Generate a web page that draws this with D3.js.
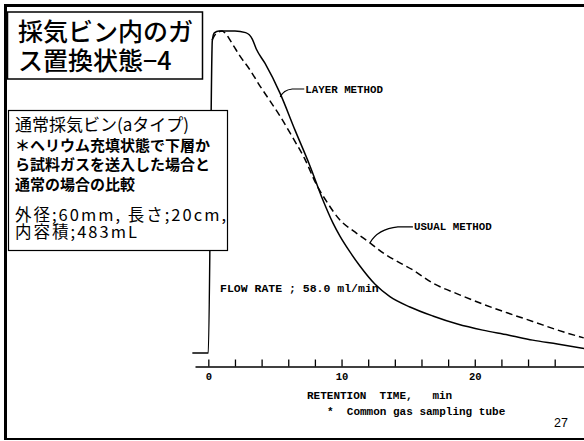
<!DOCTYPE html>
<html>
<head>
<meta charset="utf-8">
<script src="https://cdn.jsdelivr.net/npm/d3@7"></script>
<style>
  body { margin: 0; background: #fff; }
  svg { display: block; }
  .jp { font-family: "Noto Sans CJK JP", sans-serif; }
  .tw { font-family: "Liberation Mono", "DejaVu Sans Mono", monospace; font-weight: bold; }
</style>
</head>
<body>
<svg id="chart" width="584" height="441"></svg>
<script>
// retention time (min) / detector response (% of peak)
const layerTime  = [-1.2, 0, 0.3, 0.45, 0.8, 2.0, 2.8, 3.3, 3.6, 4.25, 5.38, 6.5, 7.63, 8.6, 9.35, 9.88, 10.63, 11.38, 12.5, 13.63, 15.13, 16.85, 18.7, 20.6, 22.5, 24.35, 26.2, 28.2];
const layerValue = [0, 0, 97, 99.4, 100, 100, 99.5, 97.5, 94.4, 90, 80.7, 69.3, 58.1, 47.5, 40.4, 36.3, 31.4, 27, 21.4, 17.5, 14.3, 11.5, 9, 7.1, 5.6, 4.0, 2.8, 1.4];

const usualTime  = [0.28, 0.58, 1.03, 1.25, 1.85, 2.38, 3.13, 3.88, 4.63, 5.38, 6.35, 7.25, 8.13, 8.9, 9.88, 11.0, 12.13, 13.25, 14.38, 15.35, 16.85, 18.73, 20.6, 22.48, 24.35, 26.23, 28.18];
const usualValue = [97.2, 99.2, 100, 99.4, 95.7, 92.2, 87.9, 82.9, 78.3, 73.6, 66.8, 60.2, 52.2, 46.9, 41.3, 37.6, 34.2, 30.7, 28.0, 25.8, 21.7, 18.3, 15.2, 12.4, 9.8, 7.1, 4.7];

const tickValues = d3.range(0, 27, 2);
const tickLabels = [0, 10, 20];

const titleLines = ["採気ビン内のガ", "ス置換状態−4"];
const noteLines  = ["通常採気ビン(aタイプ)", "＊ヘリウム充填状態で下層か", "ら試料ガスを送入した場合と", "通常の場合の比較"];
const sizeLines  = ["外径;60mm, 長さ;20cm,", "内容積;483mL"];

const svg = d3.select("#chart");

const x = d3.scaleLinear().domain([-1, 28.8]).range([195, 592]);
const y = d3.scaleLinear().domain([0, 100]).range([353, 31]);

const layer = layerTime.map((t, i) => [t, layerValue[i]]);
const usual = usualTime.map((t, i) => [t, usualValue[i]]);

const line = d3.line()
  .x(d => x(d[0]))
  .y(d => y(d[1]))
  .curve(d3.curveMonotoneX);

// axis, ticks pointing up
const axis = svg.append("g")
  .attr("transform", "translate(0,366.5)")
  .call(d3.axisBottom(x)
    .tickValues(tickValues)
    .tickSizeInner(-7)
    .tickSizeOuter(0)
    .tickPadding(6)
    .tickFormat(d => tickLabels.includes(d) ? d : ""));

axis.select(".domain").attr("stroke-width", 1.3);
axis.selectAll(".tick line").attr("stroke-width", 1.3);
axis.selectAll(".tick text")
  .attr("class", "tw")
  .attr("font-size", 10.5)
  .attr("fill", "#000");

svg.append("path")
  .datum(layer)
  .attr("fill", "none")
  .attr("stroke", "#000")
  .attr("stroke-width", 1.5)
  .attr("d", line);

svg.append("path")
  .datum(usual)
  .attr("fill", "none")
  .attr("stroke", "#000")
  .attr("stroke-width", 1.5)
  .attr("stroke-dasharray", "7,4")
  .attr("d", line);

// leaders
const layerEnd = [x(5.4), y(79.5)];
const lp = d3.path();
lp.moveTo(layerEnd[0] + 24, layerEnd[1] - 8);
lp.lineTo(layerEnd[0] + 12, layerEnd[1] - 8);
lp.quadraticCurveTo(layerEnd[0] + 3, layerEnd[1] - 7, layerEnd[0], layerEnd[1]);
svg.append("path").attr("d", lp.toString())
  .attr("fill", "none").attr("stroke", "#000").attr("stroke-width", 1.2);

svg.append("text").attr("class", "tw")
  .attr("x", layerEnd[0] + 25).attr("y", layerEnd[1] - 4.5)
  .attr("font-size", 10.8).text("LAYER METHOD");

const usualEnd = [x(12.13), y(34.2)];
const up = d3.path();
up.moveTo(usualEnd[0] + 43, usualEnd[1] - 16);
up.lineTo(usualEnd[0] + 28, usualEnd[1] - 16);
up.quadraticCurveTo(usualEnd[0] + 8, usualEnd[1] - 14, usualEnd[0], usualEnd[1]);
svg.append("path").attr("d", up.toString())
  .attr("fill", "none").attr("stroke", "#000").attr("stroke-width", 1.2);

svg.append("text").attr("class", "tw")
  .attr("x", usualEnd[0] + 44).attr("y", usualEnd[1] - 12.5)
  .attr("font-size", 10.8).text("USUAL METHOD");

svg.append("text").attr("class", "tw")
  .attr("x", 220).attr("y", 292)
  .attr("font-size", 11.5).text("FLOW RATE ; 58.0 ml/min");

svg.append("text").attr("class", "tw")
  .attr("x", 307).attr("y", 399)
  .attr("font-size", 11).attr("xml:space", "preserve")
  .text("RETENTION  TIME,   min");

svg.append("text").attr("class", "tw")
  .attr("x", 327).attr("y", 415)
  .attr("font-size", 11).attr("xml:space", "preserve")
  .text("*  Common gas sampling tube");

svg.append("text")
  .attr("x", 554).attr("y", 427)
  .attr("font-family", "Liberation Sans, sans-serif")
  .attr("font-size", 12.5)
  .text("27");

// slide frame
svg.append("line").attr("x1", 4).attr("x2", 584).attr("y1", 5.5).attr("y2", 5.5)
  .attr("stroke", "#000").attr("stroke-width", 3);
svg.append("line").attr("x1", 5.5).attr("x2", 5.5).attr("y1", 4).attr("y2", 440)
  .attr("stroke", "#000").attr("stroke-width", 3);
svg.append("line").attr("x1", 4).attr("x2", 584).attr("y1", 439).attr("y2", 439)
  .attr("stroke", "#000").attr("stroke-width", 2);

// title box
svg.append("rect")
  .attr("x", 7.5).attr("y", 12).attr("width", 195).attr("height", 67)
  .attr("fill", "#fff").attr("stroke", "#000").attr("stroke-width", 1.5);

svg.selectAll("text.title")
  .data(titleLines)
  .join("text")
  .attr("class", "jp title")
  .attr("x", 18)
  .attr("y", (d, i) => 41 + i * 29)
  .attr("font-size", 25)
  .attr("font-weight", 500)
  .text(d => d);

// note box (covers the rising edge of the peak)
svg.append("rect")
  .attr("x", 8.5).attr("y", 110.5).attr("width", 219).attr("height", 140)
  .attr("fill", "#fff").attr("stroke", "#000").attr("stroke-width", 1.2);

svg.selectAll("text.note")
  .data(noteLines)
  .join("text")
  .attr("class", "jp note")
  .attr("x", 15)
  .attr("y", (d, i) => i === 0 ? 131 : 131 + i * 19.5)
  .attr("font-size", (d, i) => i === 0 ? 17 : 15)
  .attr("font-weight", (d, i) => i === 0 ? "normal" : "bold")
  .text(d => d);

svg.selectAll("text.size")
  .data(sizeLines)
  .join("text")
  .attr("class", "jp size")
  .attr("x", 15)
  .attr("y", (d, i) => 221 + i * 16.5)
  .attr("font-size", 16.5)
  .attr("textLength", (d, i) => i === 0 ? 211 : 122)
  .attr("lengthAdjust", "spacing")
  .text(d => d);
</script>
</body>
</html>
